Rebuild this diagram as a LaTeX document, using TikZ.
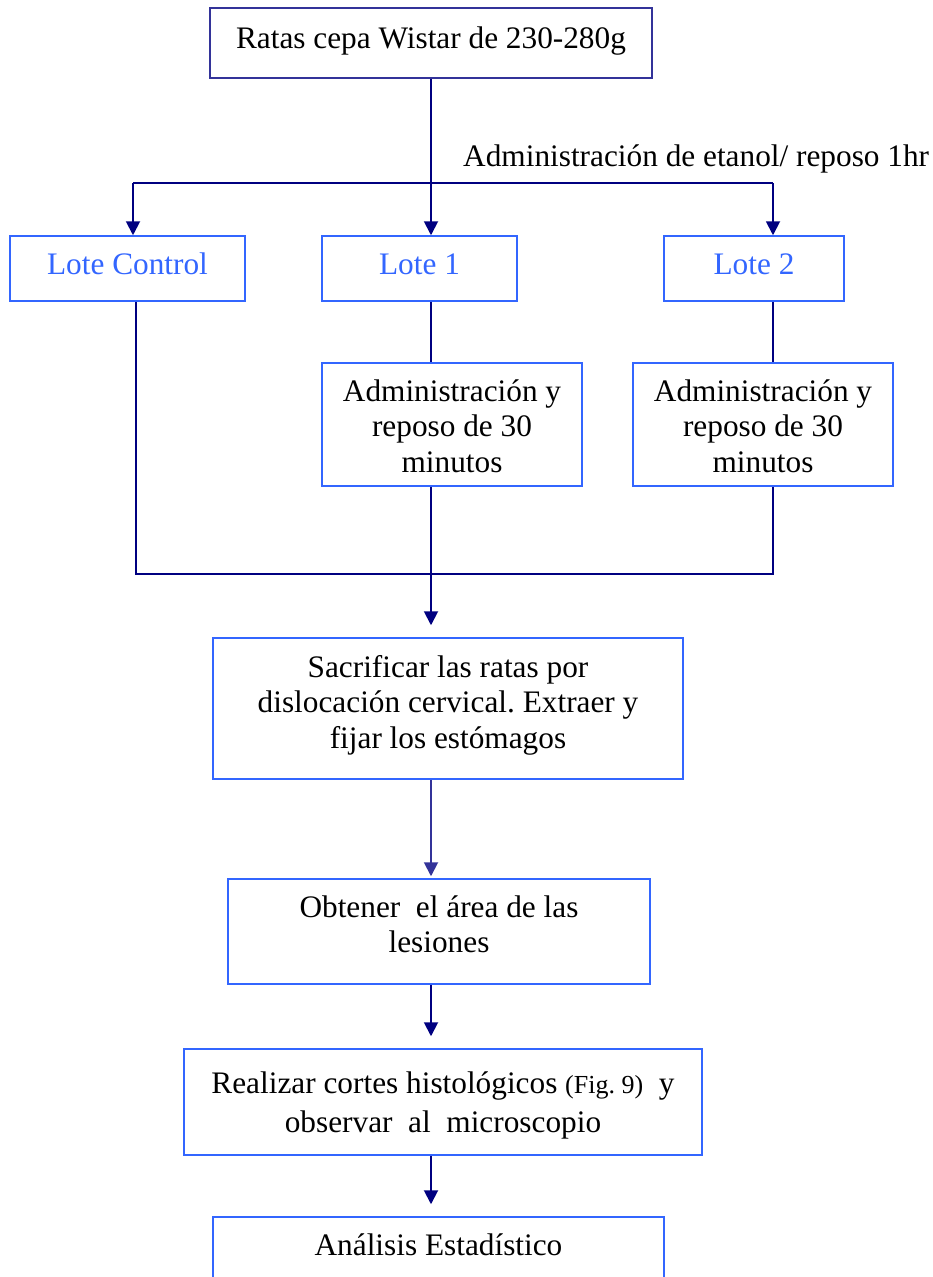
\documentclass[tikz,border=0pt]{standalone}
\usepackage{fontspec}
\setmainfont{Liberation Serif}
\usetikzlibrary{arrows.meta}
\definecolor{navyc}{HTML}{000080}
\definecolor{midc}{HTML}{333399}
\definecolor{boxc}{HTML}{3366FF}
\definecolor{topc}{HTML}{333399}
\frenchspacing
\newcommand\bxt[4]{\parbox[c][#2][t]{#1}{\centering\rule{0pt}{#3}#4}}
\begin{document}
\begin{tikzpicture}[x=1pt,y=-1pt,
  box/.style={draw=boxc,line width=1.5pt,inner sep=0pt,fill=white,
    font=\fontsize{31.3}{35.5}\selectfont},
  conn/.style={color=navyc,line width=1.9pt},
  arr/.style={conn,-{Triangle[length=14pt,width=14pt]}}]
\useasboundingbox (0,0) rectangle (932,1277);
\clip (0,0) rectangle (932,1277);

% boxes
\node[box,draw=topc] (top) at (431,43) {\bxt{442pt}{70pt}{40pt}{Ratas cepa Wistar de 230-280g}};
\node[box,text=boxc] (lc) at (127.5,268.5) {\bxt{235pt}{65pt}{38pt}{Lote Control}};
\node[box,text=boxc] (l1) at (419.5,268.5) {\bxt{195pt}{65pt}{38pt}{Lote 1}};
\node[box,text=boxc] (l2) at (754,268.5) {\bxt{180pt}{65pt}{38pt}{Lote 2}};
\node[box] (a1) at (452,424.5) {\bxt{260pt}{123pt}{38pt}{Administración y\\reposo de 30\\minutos}};
\node[box] (a2) at (763,424.5) {\bxt{260pt}{123pt}{38pt}{Administración y\\reposo de 30\\minutos}};
\node[box] (sac) at (448,708.5) {\bxt{470pt}{141pt}{39pt}{Sacrificar las ratas por\\dislocación cervical. Extraer y\\fijar los estómagos}};
\node[box] (obt) at (439,931.5) {\bxt{422pt}{105pt}{38pt}{Obtener\ \ el área de las\\lesiones}};
\node[box] (rea) at (443,1102) {\bxt{518pt}{106pt}{44pt}{\baselineskip=39pt Realizar cortes histológicos {\fontsize{26}{30}\selectfont(Fig. 9)}\ \ y\\observar\ \ al\ \ microscopio}};
\node[box] (ana) at (438.5,1273.5) {\bxt{451pt}{113pt}{38pt}{Análisis Estadístico}};

% label
\node[anchor=base west,inner sep=0pt,font=\fontsize{31.3}{35.5}\selectfont] (lab) at (463,166) {Administración de etanol/ reposo 1hr};

% junction coordinates
\coordinate (jn) at (431,183);
\coordinate (bL) at (133,183);
\coordinate (bR) at (773,183);
\coordinate (cL) at (136,574);
\coordinate (cR) at (773,574);

% connectors
\draw[arr] (top.south) -- (top.south |- l1.north);
\draw[conn] (bL) -- (bR);
\draw[arr] (bL) -- (bL |- lc.north);
\draw[arr] (bR) -- (bR |- l2.north);

\draw[conn] (l1.south -| jn) -- (a1.north -| jn);
\draw[conn] (l2.south -| bR) -- (a2.north -| bR);
\draw[conn] (lc.south -| cL) -- (cL) -- (cR) -- (a2.south -| cR);
\draw[arr,shorten >=12pt] (a1.south -| jn) -- (sac.north -| jn);
\draw[arr,color=midc,shorten >=2pt] (sac.south -| jn) -- (obt.north -| jn);
\draw[arr,shorten >=12pt] (obt.south -| jn) -- (rea.north -| jn);
\draw[arr,shorten >=12pt] (rea.south -| jn) -- (ana.north -| jn);
\end{tikzpicture}
\end{document}
